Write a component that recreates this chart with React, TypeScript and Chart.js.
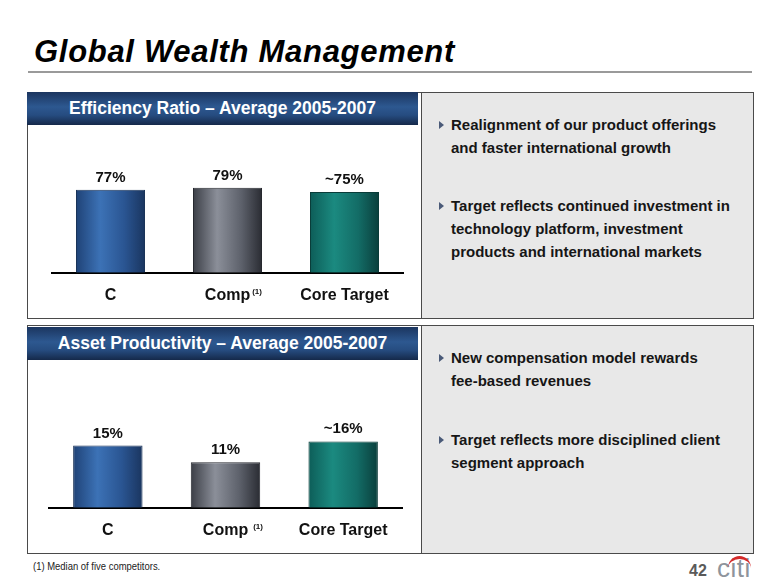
import React, { useEffect, useRef } from "react";
import { Chart, registerables } from "chart.js";

Chart.register(...registerables);

const categories = ["C", "Comp", "Core Target"];
const efficiencyValues = [77, 79, 75];
const efficiencyLabels = ["77%", "79%", "~75%"];
const productivityValues = [15, 11, 16];
const productivityLabels = ["15%", "11%", "~16%"];
const compFootnoteMark = "(1)";

const barGradients = [
  ["#1f4276", "#3c72b6", "#2a5592", "#1a355f"],
  ["#3b3e46", "#8b8f99", "#5d616b", "#2a2c33"],
  ["#0d5d58", "#1b8a80", "#136c66", "#0a3f3c"],
];
const barBorders = ["#1a3358", "#26282e", "#0a3c39"];

const FONT = "'Liberation Sans', Arial, Helvetica, sans-serif";

function makePlugin(labels: string[], supGap: number) {
  return {
    id: "valueLabels",
    afterDatasetsDraw(chart: any) {
      const meta = chart.getDatasetMeta(0);
      const ctx = chart.ctx;
      ctx.save();
      ctx.font = `bold 15px ${FONT}`;
      ctx.fillStyle = "#111";
      ctx.textAlign = "center";
      ctx.textBaseline = "alphabetic";
      meta.data.forEach((bar: any, i: number) => {
        ctx.fillText(labels[i], bar.x, bar.y - 8);
      });
      ctx.restore();
    },
    afterDraw(chart: any) {
      const xs = chart.scales.x;
      const ctx = chart.ctx;
      ctx.save();
      ctx.font = `bold 16px ${FONT}`;
      const w = ctx.measureText(categories[1]).width;
      const x = xs.getPixelForValue(1) + w / 2 + supGap;
      ctx.font = `bold 8px ${FONT}`;
      ctx.fillStyle = "#111";
      ctx.textAlign = "left";
      ctx.textBaseline = "top";
      ctx.fillText(compFootnoteMark, x, xs.top + 15);
      ctx.restore();
    },
  };
}

function BarChart(props: {
  values: number[];
  labels: string[];
  max: number;
  padLeft: number;
  padRight: number;
  supGap: number;
}) {
  const ref = useRef<HTMLCanvasElement | null>(null);
  useEffect(() => {
    if (!ref.current) return;
    const chart = new Chart(ref.current, {
      type: "bar",
      data: {
        labels: categories,
        datasets: [
          {
            data: props.values,
            backgroundColor: (c: any) => {
              const ch = c.chart;
              const xs = ch.scales && ch.scales.x;
              const i = c.dataIndex ?? 0;
              const stops = barGradients[i] || barGradients[0];
              if (!xs || c.type !== "data") return stops[1];
              const cx = xs.getPixelForValue(i);
              const w = (xs.width / categories.length) * 0.59;
              if (!isFinite(cx) || !isFinite(w) || w <= 0) return stops[1];
              const g = ch.ctx.createLinearGradient(cx - w / 2, 0, cx + w / 2, 0);
              g.addColorStop(0, stops[0]);
              g.addColorStop(0.35, stops[1]);
              g.addColorStop(0.7, stops[2]);
              g.addColorStop(1, stops[3]);
              return g;
            },
            borderColor: barBorders,
            borderWidth: 1,
            borderSkipped: "bottom",
            categoryPercentage: 1,
            barPercentage: 0.59,
          } as any,
        ],
      },
      options: {
        animation: false,
        responsive: false,
        maintainAspectRatio: false,
        layout: {
          padding: { top: 40, bottom: 0, left: props.padLeft, right: props.padRight },
        },
        plugins: {
          legend: { display: false },
          tooltip: { enabled: false },
          title: { display: false },
        },
        scales: {
          x: {
            grid: { display: false, drawTicks: false },
            border: { display: true, color: "#000", width: 2 },
            ticks: {
              color: "#111",
              padding: 13,
              font: { family: FONT, size: 16, weight: "bold" },
            },
          },
          y: {
            display: false,
            min: 0,
            max: props.max,
          },
        },
      },
      plugins: [makePlugin(props.labels, props.supGap)],
    } as any);
    return () => chart.destroy();
  }, []);
  return <canvas ref={ref} width={391} height={193} style={{ display: "block" }} />;
}

const abs = (l: number, t: number, extra: React.CSSProperties = {}): React.CSSProperties => ({
  position: "absolute",
  left: l,
  top: t,
  ...extra,
});

function Bullet(props: { top: number; lines: string[] }) {
  return (
    <div style={abs(438, props.top, { width: 300 })}>
      <div
        style={abs(1, 7, {
          width: 0,
          height: 0,
          borderTop: "4px solid transparent",
          borderBottom: "4px solid transparent",
          borderLeft: "5px solid #4a5a78",
        })}
      />
      {props.lines.map((ln, i) => (
        <div
          key={i}
          style={abs(13, i * 23, {
            whiteSpace: "nowrap",
            font: `bold 15px ${FONT}`,
            lineHeight: "22px",
            color: "#161616",
          })}
        >
          {ln}
        </div>
      ))}
    </div>
  );
}

const headerStyle = (top: number): React.CSSProperties =>
  abs(27, top, {
    width: 391,
    height: 33,
    background: "linear-gradient(to bottom, #1b355f 0%, #2d5890 45%, #264c80 70%, #15294a 100%)",
    color: "#fff",
    font: `bold 17.5px ${FONT}`,
    lineHeight: "33px",
    textAlign: "center",
    whiteSpace: "nowrap",
  });

export default function App() {
  return (
    <div
      style={{
        position: "fixed",
        left: 0,
        top: 0,
        width: 780,
        height: 587,
        background: "#fff",
        overflow: "hidden",
        fontFamily: FONT,
      }}
    >
      <div
        style={abs(34, 36, {
          font: `italic bold 31px ${FONT}`,
          lineHeight: "31px",
          color: "#000",
          whiteSpace: "nowrap",
          letterSpacing: "0.7px",
        })}
      >
        Global Wealth Management
      </div>
      <div style={abs(28, 71, { width: 724, height: 2, background: "#9a9a9a" })} />

      {/* Top panel */}
      <div style={abs(27, 92, { width: 725, height: 225, border: "1px solid #4a4a4a", background: "#fff" })} />
      <div style={abs(421, 92, { width: 331, height: 225, background: "#e8e8e8", border: "1px solid #4a4a4a" })} />
      <div style={headerStyle(92)}>Efficiency Ratio – Average 2005-2007</div>
      <div style={abs(27, 125)}>
        <BarChart values={efficiencyValues} labels={efficiencyLabels} max={100} padLeft={25} padRight={15} supGap={2} />
      </div>
      <Bullet top={114} lines={["Realignment of our product offerings", "and faster international growth"]} />
      <Bullet
        top={195}
        lines={["Target reflects continued investment in", "technology platform, investment", "products and international markets"]}
      />

      {/* Bottom panel */}
      <div style={abs(27, 325, { width: 725, height: 227, border: "1px solid #4a4a4a", background: "#fff" })} />
      <div style={abs(421, 325, { width: 331, height: 227, background: "#e8e8e8", border: "1px solid #4a4a4a" })} />
      <div style={headerStyle(327)}>Asset Productivity – Average 2005-2007</div>
      <div style={abs(27, 360)}>
        <BarChart values={productivityValues} labels={productivityLabels} max={26} padLeft={22} padRight={16} supGap={5} />
      </div>
      <Bullet top={347} lines={["New compensation model rewards", "fee-based revenues"]} />
      <Bullet top={429} lines={["Target reflects more disciplined client", "segment approach"]} />

      {/* Footer */}
      <div
        style={abs(33, 560, {
          font: `11px 'Liberation Sans Narrow', ${FONT}`,
          color: "#222",
          whiteSpace: "nowrap",
          transform: "scaleX(0.86)",
          transformOrigin: "left top",
        })}
      >
        (1) Median of five competitors.
      </div>
      <div style={abs(689, 563, { font: `bold 16px ${FONT}`, lineHeight: "16px", color: "#5a5a5a" })}>42</div>
      <div
        style={abs(717, 554, {
          font: `26px ${FONT}`,
          color: "#8e949c",
          lineHeight: "28px",
          letterSpacing: "0.5px",
        })}
      >
        citi
      </div>
      <div
        style={abs(728, 556, {
          width: 23,
          height: 9,
          borderTop: "3px solid #d42a2a",
          borderRadius: "50% 50% 0 0 / 100% 100% 0 0",
        })}
      />
    </div>
  );
}
